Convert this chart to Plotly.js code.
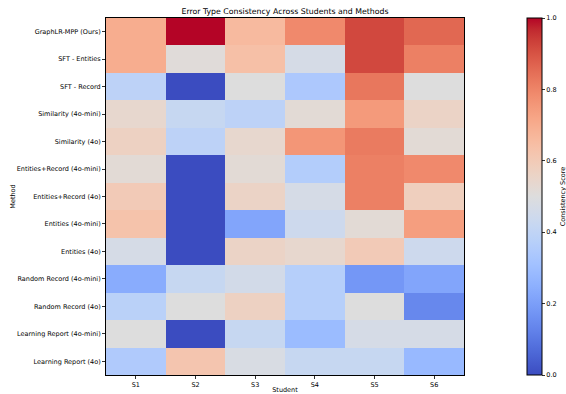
<!DOCTYPE html>
<html>
<head>
<meta charset="utf-8">
<script src="https://cdn.plot.ly/plotly-3.0.1.min.js"></script>
<style>html,body{margin:0;padding:0;background:#fff;}#chart{width:566px;height:394px;}</style>
</head>
<body>
<div id="chart"></div>
<script>
const students = ["S1", "S2", "S3", "S4", "S5", "S6"];
const methods = [
  "GraphLR-MPP (Ours)",
  "SFT - Entities",
  "SFT - Record",
  "Similarity (4o-mini)",
  "Similarity (4o)",
  "Entities+Record (4o-mini)",
  "Entities+Record (4o)",
  "Entities (4o-mini)",
  "Entities (4o)",
  "Random Record (4o-mini)",
  "Random Record (4o)",
  "Learning Report (4o-mini)",
  "Learning Report (4o)"
];
const rowGraphLR = [0.70, 1.00, 0.66, 0.79, 0.92, 0.86];
const rowSFTEntities = [0.70, 0.51, 0.64, 0.47, 0.92, 0.81];
const rowSFTRecord = [0.39, 0.00, 0.50, 0.34, 0.83, 0.50];
const rowSim4oMini = [0.54, 0.42, 0.39, 0.52, 0.75, 0.56];
const rowSim4o = [0.57, 0.39, 0.54, 0.76, 0.82, 0.52];
const rowER4oMini = [0.52, 0.00, 0.52, 0.36, 0.81, 0.79];
const rowER4o = [0.60, 0.00, 0.56, 0.47, 0.81, 0.58];
const rowE4oMini = [0.63, 0.00, 0.22, 0.44, 0.52, 0.74];
const rowE4o = [0.47, 0.00, 0.56, 0.54, 0.60, 0.44];
const rowRR4oMini = [0.24, 0.42, 0.46, 0.37, 0.18, 0.22];
const rowRR4o = [0.38, 0.50, 0.57, 0.37, 0.50, 0.14];
const rowLR4oMini = [0.50, 0.00, 0.42, 0.29, 0.47, 0.47];
const rowLR4o = [0.35, 0.62, 0.48, 0.42, 0.42, 0.28];
const scores = [rowGraphLR, rowSFTEntities, rowSFTRecord, rowSim4oMini, rowSim4o,
  rowER4oMini, rowER4o, rowE4oMini, rowE4o, rowRR4oMini, rowRR4o, rowLR4oMini, rowLR4o];

const coolwarmRGB = [
  [59,76,192],[68,90,204],[77,104,215],[87,117,225],[98,130,234],[108,142,241],
  [119,154,247],[130,165,251],[141,176,254],[152,185,255],[163,194,255],[174,201,253],
  [184,208,249],[194,213,244],[204,217,238],[213,219,230],[221,221,221],[229,216,209],
  [236,211,197],[241,204,185],[245,196,173],[247,187,160],[247,177,148],[247,166,135],
  [244,154,123],[241,141,111],[236,127,99],[229,112,88],[222,96,77],[213,80,66],
  [203,62,56],[192,40,47],[180,4,38]
];
const colorscale = coolwarmRGB.map((c, i) => [i / (coolwarmRGB.length - 1), `rgb(${c[0]},${c[1]},${c[2]})`]);

const font = {family: "DejaVu Sans", size: 6.5, color: "#000"};

Plotly.newPlot("chart", [{
  type: "heatmap",
  x: students,
  y: methods,
  z: scores,
  zmin: 0, zmax: 1,
  colorscale: colorscale,
  xgap: 0, ygap: 0,
  colorbar: {
    x: 1.176, xanchor: "left", xref: "paper",
    y: 0.5, yanchor: "middle", len: 1.0, lenmode: "fraction",
    thickness: 15, thicknessmode: "pixels",
    outlinewidth: 1, outlinecolor: "#000",
    ticks: "outside", ticklen: 3, tickwidth: 0.8, tickcolor: "#000",
    tickvals: [0, 0.2, 0.4, 0.6, 0.8, 1.0],
    ticktext: ["0.0", "0.2", "0.4", "0.6", "0.8", "1.0"],
    tickfont: font,
    title: {text: "Consistency Score", side: "right", font: font},
    xpad: 0, ypad: 0
  }
}], {
  width: 566, height: 394,
  margin: {l: 106, r: 102, t: 18, b: 19, pad: 0, autoexpand: false},
  paper_bgcolor: "#fff", plot_bgcolor: "#fff",
  title: {text: "Error Type Consistency Across Students and Methods", font: {family: "DejaVu Sans", size: 7.8, color: "#000"}, x: 0.5, xref: "paper", y: 0.978, yanchor: "top"},
  xaxis: {
    automargin: false,
    showgrid: false, zeroline: false, ticks: "outside", ticklen: 3, tickwidth: 0.8, tickcolor: "#000",
    tickfont: font, showline: true, mirror: true, linecolor: "#000", linewidth: 1,
    title: {text: "Student", font: font, standoff: 3}
  },
  yaxis: {
    automargin: false,
    autorange: "reversed", showgrid: false, zeroline: false, ticks: "outside", ticklen: 3, tickwidth: 0.8, tickcolor: "#000",
    tickfont: font, showline: true, mirror: true, linecolor: "#000", linewidth: 1,
    title: {text: "Method", font: font, standoff: 0}
  }
}, {displayModeBar: false, staticPlot: true});
</script>
</body>
</html>
